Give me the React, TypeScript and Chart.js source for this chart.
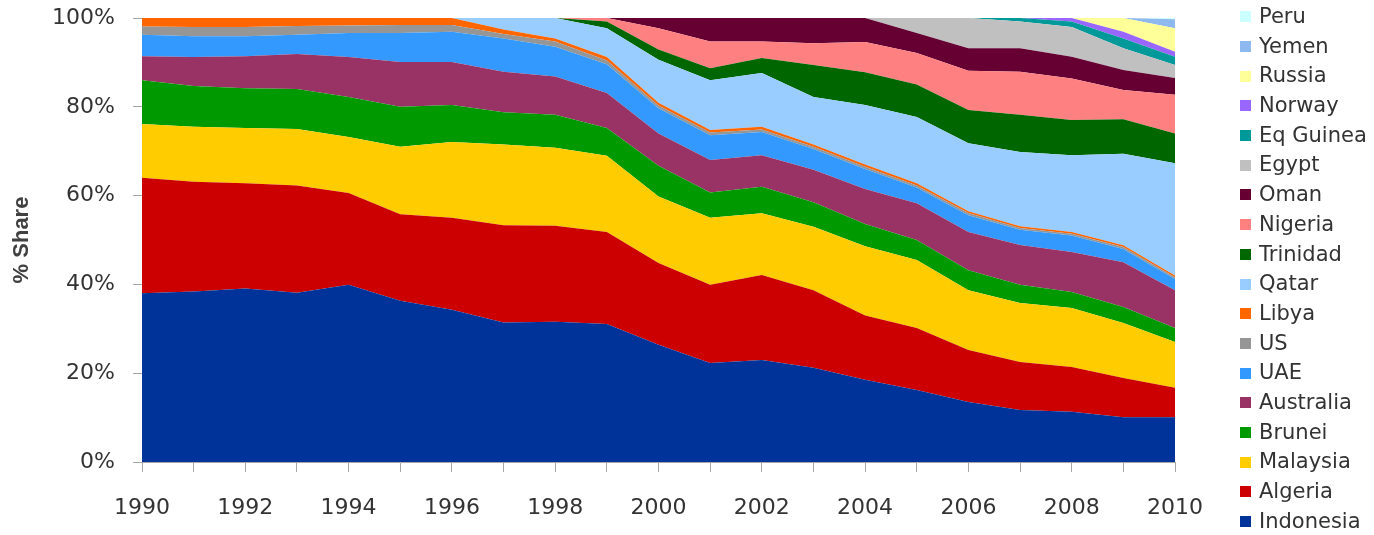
import React, { useEffect, useRef } from 'react';
import { Chart, registerables } from 'chart.js';

Chart.register(...registerables);

const years = ['1990', '1991', '1992', '1993', '1994', '1995', '1996', '1997', '1998', '1999', '2000', '2001', '2002', '2003', '2004', '2005', '2006', '2007', '2008', '2009', '2010'];

const indonesia = [38, 38.4, 39.1, 38.1, 39.9, 36.3, 34.3, 31.4, 31.6, 31.1, 26.4, 22.3, 23, 21.2, 18.5, 16.2, 13.5, 11.7, 11.3, 10.1, 10.1];
const algeria = [26, 24.7, 23.7, 24.2, 20.7, 19.5, 20.7, 21.9, 21.6, 20.7, 18.4, 17.6, 19.1, 17.5, 14.5, 14, 11.7, 10.8, 10.1, 8.8, 6.6];
const malaysia = [12.1, 12.4, 12.4, 12.7, 12.6, 15.2, 17.1, 18.2, 17.6, 17.2, 15, 15.1, 13.9, 14.3, 15.6, 15.3, 13.5, 13.3, 13.3, 12.4, 10.3];
const brunei = [9.9, 9.2, 9, 9, 9, 9, 8.3, 7.3, 7.4, 6.2, 6.9, 5.7, 6, 5.5, 5, 4.5, 4.5, 4.1, 3.6, 3.6, 3.2];
const australia = [5.4, 6.5, 7.2, 7.9, 9, 10.1, 9.7, 9.1, 8.6, 7.9, 7.3, 7.3, 7.1, 7.3, 7.9, 8.3, 8.6, 9, 9, 10.1, 8.5];
const uae = [4.8, 4.7, 4.5, 4.3, 5.4, 6.5, 6.8, 7.5, 6.7, 6.5, 5.7, 5.6, 5.2, 4.7, 4.5, 3.5, 3.8, 3.4, 3.7, 3, 2.5];
const us = [1.9, 2.1, 2.1, 2.0, 1.7, 1.8, 1.5, 1.0, 1.2, 0.8, 0.6, 0.6, 0.6, 0.5, 0.5, 0.5, 0.5, 0.4, 0.4, 0.4, 0.4];
const libya = [1.9, 2.0, 2.0, 1.8, 1.7, 1.6, 1.6, 1.0, 0.7, 0.8, 0.6, 0.6, 0.6, 0.5, 0.5, 0.5, 0.4, 0.4, 0.4, 0.4, 0.4];
const qatar = [0, 0, 0, 0, 0, 0, 0, 2.6, 4.6, 6.5, 9.7, 11.2, 12.1, 10.7, 13.4, 14.9, 15.3, 16.7, 17.3, 20.6, 25.3];
const trinidad = [0, 0, 0, 0, 0, 0, 0, 0, 0, 1.5, 2.3, 2.7, 3.4, 7.2, 7.4, 7.3, 7.5, 8.4, 7.9, 7.8, 6.7];
const nigeria = [0, 0, 0, 0, 0, 0, 0, 0, 0, 0.8, 4.8, 6.0, 3.7, 4.9, 6.8, 7.1, 8.8, 9.7, 9.4, 6.6, 8.7];
const oman = [0, 0, 0, 0, 0, 0, 0, 0, 0, 0, 2.3, 5.3, 5.3, 5.7, 5.4, 4.5, 5.1, 5.3, 4.9, 4.5, 3.8];
const egypt = [0, 0, 0, 0, 0, 0, 0, 0, 0, 0, 0, 0, 0, 0, 0, 3.4, 6.8, 6.0, 6.7, 4.9, 2.9];
const eqGuinea = [0, 0, 0, 0, 0, 0, 0, 0, 0, 0, 0, 0, 0, 0, 0, 0, 0, 0.8, 1.2, 2.2, 1.9];
const norway = [0, 0, 0, 0, 0, 0, 0, 0, 0, 0, 0, 0, 0, 0, 0, 0, 0, 0, 0.8, 1.5, 1.1];
const russia = [0, 0, 0, 0, 0, 0, 0, 0, 0, 0, 0, 0, 0, 0, 0, 0, 0, 0, 0, 3.1, 5.3];
const yemen = [0, 0, 0, 0, 0, 0, 0, 0, 0, 0, 0, 0, 0, 0, 0, 0, 0, 0, 0, 0, 2.0];
const peru = [0, 0, 0, 0, 0, 0, 0, 0, 0, 0, 0, 0, 0, 0, 0, 0, 0, 0, 0, 0, 0.3];

const seriesNames = ['Indonesia', 'Algeria', 'Malaysia', 'Brunei', 'Australia', 'UAE', 'US', 'Libya', 'Qatar', 'Trinidad', 'Nigeria', 'Oman', 'Egypt', 'Eq Guinea', 'Norway', 'Russia', 'Yemen', 'Peru'];
const seriesValues = [indonesia, algeria, malaysia, brunei, australia, uae, us, libya, qatar, trinidad, nigeria, oman, egypt, eqGuinea, norway, russia, yemen, peru];
const seriesColors = ['#003399', '#CC0000', '#FFCC00', '#009900', '#993366', '#3399FF', '#969696', '#FF6600', '#99CCFF', '#006600', '#FF8080', '#660033', '#C0C0C0', '#009999', '#9966FF', '#FFFF99', '#8DB9EE', '#CCFFFF'];

const yTicks = [0, 20, 40, 60, 80, 100];

export default function App() {
  const ref = useRef<HTMLCanvasElement | null>(null);

  useEffect(() => {
    document.body.style.margin = '0';
    const canvas = ref.current;
    if (!canvas) return;
    const datasets = seriesNames.map((name, i) => ({
      label: name,
      data: seriesValues[i],
      backgroundColor: seriesColors[i],
      borderColor: 'rgba(0,0,0,0)',
      borderWidth: 0,
      pointRadius: 0,
      pointHoverRadius: 0,
      tension: 0,
      fill: i === 0 ? 'origin' : '-1',
    }));
    const axisColor = '#a6a6a6';
    const chart = new Chart(canvas, {
      type: 'line',
      data: { labels: years, datasets },
      options: {
        responsive: false,
        animation: false,
        devicePixelRatio: 1,
        layout: { padding: { top: 18, right: 199, left: 0, bottom: 0 } },
        plugins: {
          legend: { display: false },
          tooltip: { enabled: false },
        },
        scales: {
          x: {
            type: 'category',
            offset: false,
            grid: { display: true, drawOnChartArea: false, drawTicks: true, tickLength: 10, color: axisColor },
            border: { display: true, color: axisColor },
            ticks: {
              autoSkip: false,
              maxRotation: 0,
              minRotation: 0,
              padding: 23,
              color: '#333333',
              font: { family: 'DejaVu Sans', size: 22 },
              callback: (_v: any, i: number) => (i % 2 === 0 ? years[i] : ''),
            },
            afterFit: (s: any) => { s.height = 73; s.paddingLeft = 0; s.paddingRight = 0; },
          },
          y: {
            stacked: true,
            min: 0,
            max: 100,
            afterBuildTicks: (s: any) => { s.ticks = yTicks.map((v) => ({ value: v })); },
            grid: { display: true, drawOnChartArea: false, drawTicks: true, tickLength: 9, color: axisColor },
            border: { display: true, color: axisColor },
            ticks: {
              padding: 18,
              color: '#333333',
              font: { family: 'DejaVu Sans', size: 22 },
              callback: (v: any) => v + '%',
            },
            title: {
              display: true,
              text: '% Share',
              color: '#404040',
              font: { family: 'Liberation Sans', size: 22, weight: 'bold' },
              padding: { top: 9, bottom: 0 },
            },
            afterFit: (s: any) => { s.width = 142; s.paddingTop = 0; s.paddingBottom = 0; },
          },
        },
      },
    } as any);
    return () => chart.destroy();
  }, []);

  const legendOrder = seriesNames.map((_n, i) => i).reverse();

  return (
    <div style={{ position: 'relative', width: 1374, height: 535, overflow: 'hidden', background: '#ffffff' }}>
      <canvas ref={ref} width={1374} height={535} style={{ position: 'absolute', left: 0, top: 0, width: 1374, height: 535 }} />
      <div style={{ position: 'absolute', left: 1240, top: 2, fontFamily: 'DejaVu Sans', fontSize: 21, color: '#333333' }}>
        {legendOrder.map((i) => (
          <div key={seriesNames[i]} style={{ display: 'flex', alignItems: 'center', height: 29.7, whiteSpace: 'nowrap' }}>
            <span style={{ display: 'inline-block', width: 11, height: 11, background: seriesColors[i], marginRight: 8, flex: 'none' }} />
            <span style={{ lineHeight: '29.7px' }}>{seriesNames[i]}</span>
          </div>
        ))}
      </div>
    </div>
  );
}
